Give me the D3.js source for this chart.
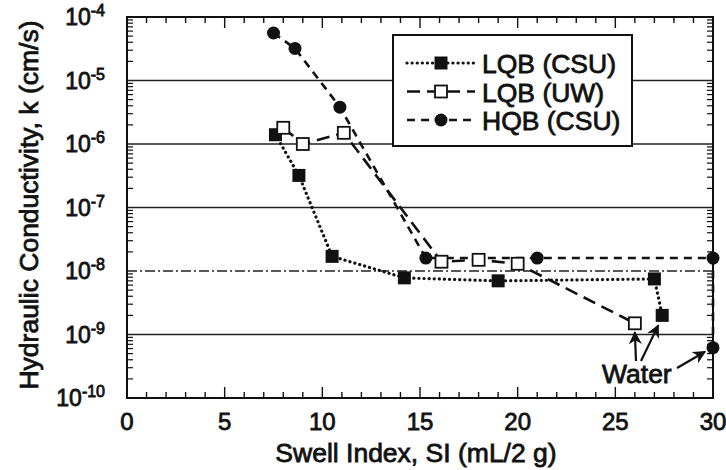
<!DOCTYPE html>
<html lang="en">
<head>
    <meta charset="UTF-8">
    <title>Hydraulic conductivity vs swell index</title>
    <style>
        * { margin: 0; padding: 0; }
        body { background: #fff; }
        #container { width: 726px; height: 470px; }
        text { font-family: "Liberation Sans", Arial, sans-serif; fill: #111; stroke: #111; stroke-width: 0.8px; }
    </style>
</head>
<body>
<div id="container"></div>

<script src="https://cdnjs.cloudflare.com/ajax/libs/d3/7.8.5/d3.min.js"></script>
<script>
    "use strict";

    // data
    var seriesNames = ['LQB (CSU)', 'LQB (UW)', 'HQB (CSU)'];

    var swellLqbCsu = [7.6, 8.8, 10.5, 14.2, 19.0, 27.0, 27.4];
    var kLqbCsu = [1.4e-6, 3.2e-7, 1.7e-8, 7.8e-9, 7.0e-9, 7.5e-9, 2.0e-9];

    var swellLqbUw = [8.0, 9.0, 11.1, 16.1, 18.0, 20.0, 26.0];
    var kLqbUw = [1.8e-6, 1.0e-6, 1.5e-6, 1.4e-8, 1.5e-8, 1.3e-8, 1.5e-9];

    var swellHqbCsu = [7.5, 8.6, 10.9, 15.3, 21.0, 30.0, 30.0];
    var kHqbCsu = [5.6e-5, 3.2e-5, 3.8e-6, 1.6e-8, 1.6e-8, 1.6e-8, 6.2e-10];

    var xTicks = [0, 5, 10, 15, 20, 25, 30];
    var yExponents = [-4, -5, -6, -7, -8, -9, -10];

    (function () {

        var settings = {
            width: 726,
            height: 470,
            margin: { top: 17, left: 127, right: 13, bottom: 72 }
        };

        var innerW = settings.width - settings.margin.left - settings.margin.right;
        var innerH = settings.height - settings.margin.top - settings.margin.bottom;

        var x = d3.scaleLinear().domain([0, 30]).range([0, innerW]);
        var y = d3.scaleLog().domain([1e-10, 1e-4]).range([innerH, 0]);

        var svg = d3.select('#container')
            .append('svg')
            .attr('width', settings.width)
            .attr('height', settings.height);

        var g = svg.append('g')
            .attr('transform', 'translate(' + settings.margin.left + ',' + settings.margin.top + ')');

        // decade grid lines
        g.selectAll('line.grid')
            .data(yExponents.slice(1, -1))
            .enter()
            .append('line')
            .attr('class', 'grid')
            .attr('x1', 0)
            .attr('x2', innerW)
            .attr('y1', function (e) { return y(Math.pow(10, e)); })
            .attr('y2', function (e) { return y(Math.pow(10, e)); })
            .attr('stroke', '#222')
            .attr('stroke-width', 1.3)
            .attr('stroke-dasharray', function (e) { return e === -8 ? '10,3,2,3' : null; });

        // minor log ticks, left and right, pointing inward
        var minor = [];
        for (var e = -10; e < -4; e++) {
            for (var m = 2; m <= 9; m++) minor.push(m * Math.pow(10, e));
        }
        [0, innerW].forEach(function (side) {
            var dir = side === 0 ? 1 : -1;
            g.selectAll(null)
                .data(minor)
                .enter()
                .append('line')
                .attr('x1', side)
                .attr('x2', side + dir * 6)
                .attr('y1', function (d) { return y(d); })
                .attr('y2', function (d) { return y(d); })
                .attr('stroke', '#111')
                .attr('stroke-width', 1.2);
        });

        // x ticks bottom and top, inward
        var xMinor = d3.range(0, 31);
        [innerH, 0].forEach(function (side) {
            var dir = side === 0 ? 1 : -1;
            g.selectAll(null)
                .data(xMinor)
                .enter()
                .append('line')
                .attr('x1', function (d) { return x(d); })
                .attr('x2', function (d) { return x(d); })
                .attr('y1', side)
                .attr('y2', function (d) { return side + dir * (d % 5 === 0 ? 11 : 6); })
                .attr('stroke', '#111')
                .attr('stroke-width', 1.4);
        });

        // frame
        g.append('rect')
            .attr('width', innerW)
            .attr('height', innerH)
            .attr('fill', 'none')
            .attr('stroke', '#111')
            .attr('stroke-width', 2);

        // x tick labels
        g.selectAll('text.xt')
            .data(xTicks)
            .enter()
            .append('text')
            .attr('class', 'xt')
            .attr('x', function (d) { return x(d); })
            .attr('y', innerH + 32)
            .attr('text-anchor', 'middle')
            .attr('font-size', 24)
            .text(function (d) { return d; });

        // y tick labels with superscript
        var yl = g.selectAll('text.yt')
            .data(yExponents)
            .enter()
            .append('text')
            .attr('class', 'yt')
            .attr('x', -22)
            .attr('y', function (e) { return y(Math.pow(10, e)) + 8; })
            .attr('text-anchor', 'end');
        yl.append('tspan').attr('font-size', 23).text('10');
        yl.append('tspan').attr('font-size', 16).attr('dy', -9).text(function (e) { return '-' + (-e); });

        // axis titles
        svg.append('text')
            .attr('x', 416)
            .attr('y', 462)
            .attr('text-anchor', 'middle')
            .attr('font-size', 26.5)
            .text('Swell Index, SI (mL/2 g)');

        svg.append('text')
            .attr('transform', 'translate(38,205) rotate(-90)')
            .attr('text-anchor', 'middle')
            .attr('font-size', 26.5)
            .text('Hydraulic Conductivity, k (cm/s)');

        // series
        var series = [
            { name: seriesNames[0], xs: swellLqbCsu, ks: kLqbCsu, dash: '0.1,5', cap: 'round', marker: 'fsquare' },
            { name: seriesNames[1], xs: swellLqbUw, ks: kLqbUw, dash: '13,7', cap: 'butt', marker: 'osquare' },
            { name: seriesNames[2], xs: swellHqbCsu, ks: kHqbCsu, dash: '8,6', cap: 'butt', marker: 'circle' }
        ];

        var line = d3.line()
            .x(function (d) { return x(d[0]); })
            .y(function (d) { return y(d[1]); });

        function drawMarker(sel, type) {
            if (type === 'circle') {
                sel.append('circle').attr('r', 6.5).attr('fill', '#111');
            } else if (type === 'fsquare') {
                sel.append('rect').attr('x', -6.5).attr('y', -6.5).attr('width', 13).attr('height', 13).attr('fill', '#111');
            } else {
                sel.append('rect').attr('x', -6).attr('y', -6).attr('width', 12).attr('height', 12)
                    .attr('fill', '#fff').attr('stroke', '#111').attr('stroke-width', 1.8);
            }
        }

        series.forEach(function (s) {
            var pts = s.xs.map(function (v, i) { return [v, s.ks[i]]; });
            g.append('path')
                .datum(pts)
                .attr('d', line)
                .attr('fill', 'none')
                .attr('stroke', '#111')
                .attr('stroke-width', s.cap === 'round' ? 3.2 : 2.6)
                .attr('stroke-linecap', s.cap)
                .attr('stroke-dasharray', s.dash);
        });

        series.forEach(function (s) {
            var pts = s.xs.map(function (v, i) { return [v, s.ks[i]]; });
            g.selectAll(null)
                .data(pts)
                .enter()
                .append('g')
                .attr('transform', function (d) { return 'translate(' + x(d[0]) + ',' + y(d[1]) + ')'; })
                .each(function () { drawMarker(d3.select(this), s.marker); });
        });

        // legend
        var lg = svg.append('g').attr('transform', 'translate(393,35)');
        lg.append('rect')
            .attr('width', 239)
            .attr('height', 111)
            .attr('fill', '#fff')
            .attr('stroke', '#111')
            .attr('stroke-width', 2);
        series.forEach(function (s, i) {
            var row = lg.append('g').attr('transform', 'translate(0,' + (28 + i * 28.5) + ')');
            row.append('line')
                .attr('x1', 14).attr('x2', 82)
                .attr('stroke', '#111')
                .attr('stroke-width', s.cap === 'round' ? 3.2 : 2.6)
                .attr('stroke-linecap', s.cap)
                .attr('stroke-dasharray', s.dash);
            var mk = row.append('g').attr('transform', 'translate(48,0)');
            drawMarker(mk, s.marker);
            row.append('text')
                .attr('x', 89)
                .attr('y', 10)
                .attr('font-size', 26.5)
                .text(s.name);
        });

        // "Water" annotation
        var ann = svg.append('g');
        ann.append('text')
            .attr('x', 602)
            .attr('y', 383)
            .attr('font-size', 26.5)
            .text('Water');

        var defs = svg.append('defs');
        defs.append('marker')
            .attr('id', 'arrow')
            .attr('viewBox', '0 0 10 10')
            .attr('refX', 9)
            .attr('refY', 5)
            .attr('markerWidth', 6)
            .attr('markerHeight', 6)
            .attr('orient', 'auto')
            .append('path')
            .attr('d', 'M0,0 L10,5 L0,10 L3,5 Z')
            .attr('fill', '#111');

        var arrows = [
            [636, 361, x(swellLqbUw[6]) + settings.margin.left, y(kLqbUw[6]) + settings.margin.top + 9],
            [641, 361, x(swellLqbCsu[6]) + settings.margin.left - 4, y(kLqbCsu[6]) + settings.margin.top + 10],
            [677, 368, x(swellHqbCsu[6]) + settings.margin.left - 8, y(kHqbCsu[6]) + settings.margin.top + 4]
        ];
        ann.selectAll('line')
            .data(arrows)
            .enter()
            .append('line')
            .attr('x1', function (d) { return d[0]; })
            .attr('y1', function (d) { return d[1]; })
            .attr('x2', function (d) { return d[2]; })
            .attr('y2', function (d) { return d[3]; })
            .attr('stroke', '#111')
            .attr('stroke-width', 2.2)
            .attr('marker-end', 'url(#arrow)');

    })();
</script>
</body>
</html>
